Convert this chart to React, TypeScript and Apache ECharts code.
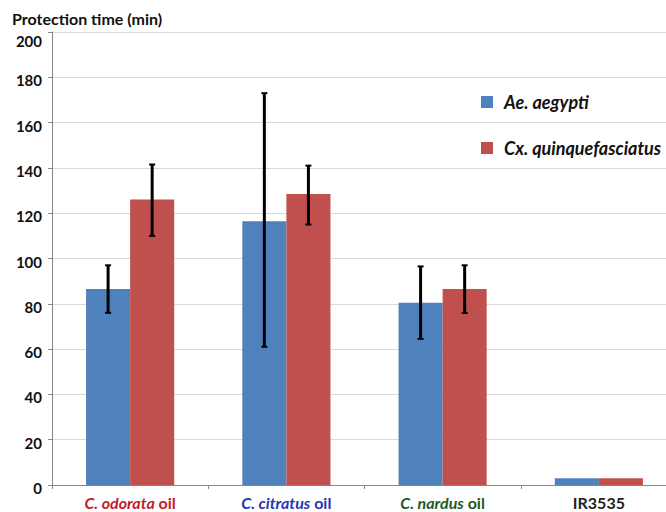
import React, { useEffect, useRef } from "react";
import * as echarts from "echarts";

const categories = ["C. odorata oil", "C. citratus oil", "C. nardus oil", "IR3535"];
const seriesNames = ["Ae. aegypti", "Cx. quinquefasciatus"];
const aegyptiMean = [86.5, 116.5, 80.5, 3];
const aegyptiLow = [76, 61, 64.5, 3];
const aegyptiHigh = [97, 173, 96.5, 3];
const culexMean = [126, 128.5, 86.5, 3];
const culexLow = [110, 115, 76, 3];
const culexHigh = [141.5, 141, 97, 3];
const yTicks = [0, 20, 40, 60, 80, 100, 120, 140, 160, 180, 200];

const FONT = "Lato, 'Open Sans', sans-serif";
const BAR_FRAC = 0.282;

export default function App() {
  const ref = useRef<HTMLDivElement>(null);
  useEffect(() => {
    if (!ref.current) return;
    const chart = echarts.init(ref.current, undefined, { renderer: "svg" });
    const errData = (low: number[], high: number[]) =>
      categories.map((_, i) => (high[i] > low[i] ? [i, low[i], high[i]] : null)).filter(Boolean);
    const makeErr = (sign: number) => (params: any, api: any) => {
      const x = api.value(0);
      const lo = api.coord([x, api.value(1)]);
      const hi = api.coord([x, api.value(2)]);
      const band = api.size([1, 0])[0];
      const cx = lo[0] + (sign * band * BAR_FRAC) / 2;
      const cap = 3;
      const style = { stroke: "#000", lineWidth: 3 };
      return {
        type: "group",
        children: [
          { type: "line", shape: { x1: cx, y1: lo[1], x2: cx, y2: hi[1] }, style },
          { type: "line", shape: { x1: cx - cap, y1: lo[1], x2: cx + cap, y2: lo[1] }, style: { stroke: "#000", lineWidth: 2 } },
          { type: "line", shape: { x1: cx - cap, y1: hi[1], x2: cx + cap, y2: hi[1] }, style: { stroke: "#000", lineWidth: 2 } },
        ],
      };
    };
    const labelColors = ["#c0202a", "#2335b8", "#1e5a1e", "#222"];
    const yLabelStyle = { fontFamily: FONT, fontSize: 15, fontWeight: "bold", color: "#111" };
    chart.setOption({
      animation: false,
      backgroundColor: "#fff",
      title: {
        text: "Protection time (min)",
        left: 7,
        top: 5,
        textStyle: { fontFamily: FONT, fontSize: 16, fontWeight: "bold", color: "#111" },
      },
      legend: {
        orient: "vertical",
        left: 476,
        top: 88,
        itemGap: 28,
        itemWidth: 12,
        itemHeight: 12,
        icon: "rect",
        data: seriesNames,
        textStyle: { fontFamily: FONT, fontSize: 18, fontWeight: "bold", fontStyle: "italic", color: "#111", padding: [0, 0, 0, 6] },
      },
      grid: { left: 52, right: 13, top: 32, bottom: 27, containLabel: false },
      xAxis: {
        type: "category",
        data: categories,
        axisLine: { lineStyle: { color: "#888", width: 1 } },
        axisTick: { show: true, alignWithLabel: false, length: 4, lineStyle: { color: "#888" } },
        axisLabel: {
          margin: 9,
          interval: 0,
          formatter: (v: string) => {
            const i = categories.indexOf(v);
            if (v.endsWith(" oil")) return `{i${i}|${v.slice(0, -4)}}{n${i}| oil}`;
            return `{n${i}|${v}}`;
          },
          rich: Object.fromEntries(
            labelColors.flatMap((c, i) => [
              [`i${i}`, { fontFamily: FONT, fontSize: 16, fontWeight: "bold", fontStyle: "italic", color: c }],
              [`n${i}`, { fontFamily: FONT, fontSize: 16, fontWeight: "bold", color: c }],
            ])
          ),
        },
      },
      yAxis: {
        type: "value",
        min: 0,
        max: 200,
        interval: 20,
        axisLine: { show: true, lineStyle: { color: "#888", width: 1 } },
        axisTick: { show: true, length: 4, lineStyle: { color: "#888" } },
        splitLine: { lineStyle: { color: "#d9d9d9", width: 1 } },
        axisLabel: {
          margin: 10,
          ...yLabelStyle,
          formatter: (v: number) => {
            if (!yTicks.includes(v)) return "";
            return v === 200 ? `{top|${v}}` : `{r|${v}}`;
          },
          rich: {
            top: { ...yLabelStyle, padding: [18, 0, 0, 0] },
            r: { ...yLabelStyle, padding: [6, 0, 0, 0] },
          },
        },
      },
      series: [
        {
          name: seriesNames[0],
          type: "bar",
          data: aegyptiMean,
          barWidth: `${BAR_FRAC * 100}%`,
          barGap: "0%",
          itemStyle: { color: "#4f81bd" },
        },
        {
          name: seriesNames[1],
          type: "bar",
          data: culexMean,
          barWidth: `${BAR_FRAC * 100}%`,
          barGap: "0%",
          itemStyle: { color: "#c0504d" },
        },
        {
          type: "custom",
          renderItem: makeErr(-1),
          data: errData(aegyptiLow, aegyptiHigh),
          encode: { x: 0, y: [1, 2] },
          z: 10,
          silent: true,
        },
        {
          type: "custom",
          renderItem: makeErr(1),
          data: errData(culexLow, culexHigh),
          encode: { x: 0, y: [1, 2] },
          z: 10,
          silent: true,
        },
      ],
    });
    return () => chart.dispose();
  }, []);
  return (
    <div style={{ position: "fixed", left: 0, top: 0, width: 666, height: 512, overflow: "hidden", background: "#fff" }}>
      <div ref={ref} style={{ width: 690, height: 512 }} />
    </div>
  );
}
